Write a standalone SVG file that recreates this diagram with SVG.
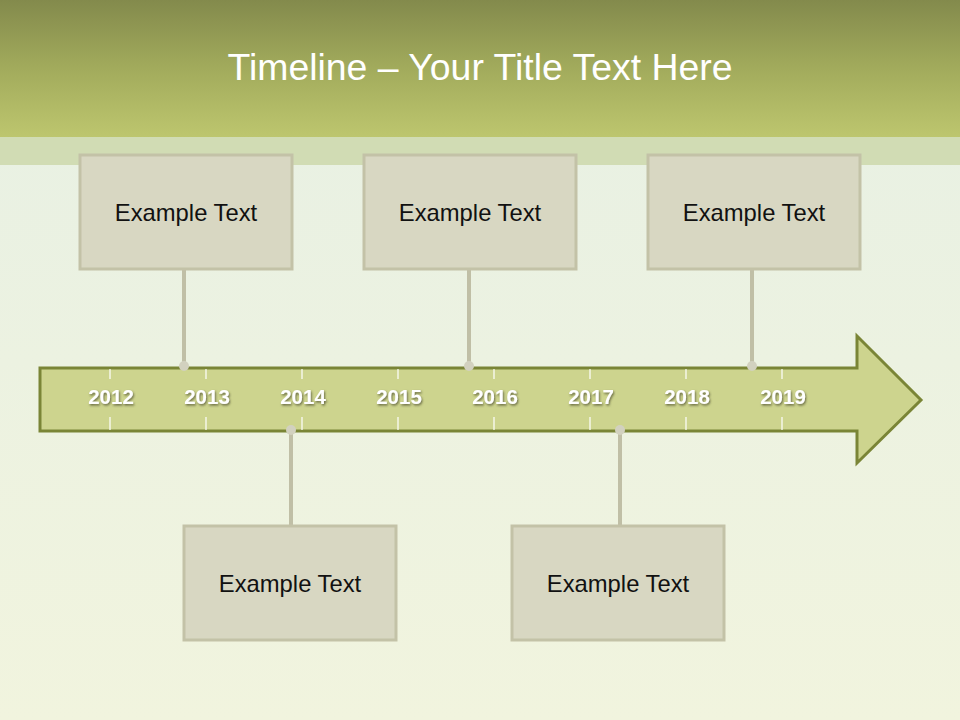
<svg xmlns="http://www.w3.org/2000/svg" width="960" height="720" viewBox="0 0 960 720">
<defs>
<linearGradient id="hdr" x1="0" y1="0" x2="0" y2="1">
<stop offset="0" stop-color="#838a4c"/>
<stop offset="0.5" stop-color="#a2ab5c"/>
<stop offset="1" stop-color="#bdc66e"/>
</linearGradient>
<linearGradient id="bg" x1="0" y1="0" x2="0" y2="1">
<stop offset="0" stop-color="#e7f0e4"/>
<stop offset="1" stop-color="#f1f4de"/>
</linearGradient>
<filter id="sh" x="-20%" y="-20%" width="140%" height="140%">
<feDropShadow dx="1" dy="1.5" stdDeviation="0.8" flood-color="#3d3d20" flood-opacity="0.7"/>
</filter>
</defs>
<style>
.box{fill:#d8d7c2;stroke:#c3c2a7;stroke-width:3}
.lbl{font-family:"Liberation Sans",Arial,sans-serif;font-size:23.8px;fill:#111;text-anchor:middle}
.yr{font-family:"Liberation Sans",Arial,sans-serif;font-size:20.5px;font-weight:bold;fill:#fff;text-anchor:middle}
.tick{stroke:#ffffff;stroke-width:1.2}
.con{stroke:#c0bfa6;stroke-width:4;fill:none}
.dot{fill:#d2d1bf}
</style>
<rect x="0" y="0" width="960" height="720" fill="url(#bg)"/>
<rect x="0" y="0" width="960" height="137" fill="url(#hdr)"/>
<rect x="0" y="137" width="960" height="28" fill="#d1dcb4"/>
<text x="480" y="80" font-family="Liberation Sans,Arial,sans-serif" font-size="37.4px" fill="#ffffff" text-anchor="middle">Timeline – Your Title Text Here</text>

<g id="arrow">
<polygon points="40,368 857,368 857,336 921,400 857,463 857,431 40,431" fill="#cdd48e" stroke="#7a8536" stroke-width="3"/>
<g class="tick">
<line x1="110" y1="369" x2="110" y2="379"/><line x1="110" y1="417" x2="110" y2="430"/>
<line x1="206" y1="369" x2="206" y2="379"/><line x1="206" y1="417" x2="206" y2="430"/>
<line x1="302" y1="369" x2="302" y2="379"/><line x1="302" y1="417" x2="302" y2="430"/>
<line x1="398" y1="369" x2="398" y2="379"/><line x1="398" y1="417" x2="398" y2="430"/>
<line x1="494" y1="369" x2="494" y2="379"/><line x1="494" y1="417" x2="494" y2="430"/>
<line x1="590" y1="369" x2="590" y2="379"/><line x1="590" y1="417" x2="590" y2="430"/>
<line x1="686" y1="369" x2="686" y2="379"/><line x1="686" y1="417" x2="686" y2="430"/>
<line x1="782" y1="369" x2="782" y2="379"/><line x1="782" y1="417" x2="782" y2="430"/>
</g>
<g class="yr" filter="url(#sh)">
<text x="111" y="404">2012</text>
<text x="207" y="404">2013</text>
<text x="303" y="404">2014</text>
<text x="399" y="404">2015</text>
<text x="495" y="404">2016</text>
<text x="591" y="404">2017</text>
<text x="687" y="404">2018</text>
<text x="783" y="404">2019</text>
</g>
</g>

<g id="connectors">
<line class="con" x1="184" y1="269" x2="184" y2="366"/>
<line class="con" x1="469" y1="269" x2="469" y2="366"/>
<line class="con" x1="752" y1="269" x2="752" y2="366"/>
<line class="con" x1="291" y1="431" x2="291" y2="526"/>
<line class="con" x1="620" y1="431" x2="620" y2="526"/>
<circle class="dot" cx="184" cy="366" r="5"/>
<circle class="dot" cx="469" cy="366" r="5"/>
<circle class="dot" cx="752" cy="366" r="5"/>
<circle class="dot" cx="291" cy="430" r="5"/>
<circle class="dot" cx="620" cy="430" r="5"/>
</g>

<g id="box1"><rect class="box" x="80" y="155" width="212" height="114"/><text class="lbl" x="186" y="221">Example Text</text></g>
<g id="box2"><rect class="box" x="364" y="155" width="212" height="114"/><text class="lbl" x="470" y="221">Example Text</text></g>
<g id="box3"><rect class="box" x="648" y="155" width="212" height="114"/><text class="lbl" x="754" y="221">Example Text</text></g>
<g id="box4"><rect class="box" x="184" y="526" width="212" height="114"/><text class="lbl" x="290" y="592">Example Text</text></g>
<g id="box5"><rect class="box" x="512" y="526" width="212" height="114"/><text class="lbl" x="618" y="592">Example Text</text></g>
</svg>
